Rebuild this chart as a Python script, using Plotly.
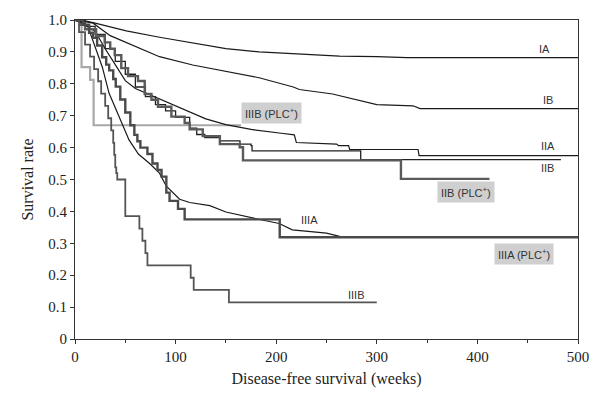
import plotly.graph_objects as go

# ---- data (weeks, survival rate) ----
ia_x = [0, 10, 18, 51, 84, 117, 150, 183, 217, 263, 300, 330, 500]
ia_y = [1.0, 0.997, 0.992, 0.966, 0.946, 0.928, 0.91, 0.9, 0.895, 0.887, 0.885, 0.882, 0.882]

ib_x = [0, 18, 35, 51, 84, 117, 150, 183, 217, 223, 256, 283, 300, 336, 343, 500]
ib_y = [1.0, 0.99, 0.951, 0.93, 0.885, 0.859, 0.839, 0.819, 0.79, 0.782, 0.768, 0.748, 0.735, 0.731, 0.722, 0.722]

iia_x = [0, 10, 20, 30, 40, 50, 60, 75, 90, 105, 115, 130, 150, 175, 205, 218, 220, 260, 262, 272, 273, 341, 342, 500]
iia_y = [1.0, 0.985, 0.965, 0.91, 0.86, 0.81, 0.785, 0.765, 0.745, 0.725, 0.712, 0.69, 0.672, 0.657, 0.645, 0.64, 0.616, 0.611, 0.606, 0.606, 0.594, 0.594, 0.575, 0.575]

iib_x = [0, 10, 20, 30, 40, 50, 60, 70, 80, 90, 100, 114, 121, 129, 144, 164, 175, 176, 284, 483]
iib_y = [1.0, 0.98, 0.955, 0.91, 0.87, 0.83, 0.79, 0.76, 0.735, 0.715, 0.695, 0.661, 0.641, 0.631, 0.621, 0.611, 0.606, 0.59, 0.562, 0.562]

iib_plc_x = [0, 5, 10, 21, 29.5, 35, 39.5, 46, 52.7, 62.6, 69.3, 76, 82.5, 95.8, 109, 114, 127, 144, 163.7, 167, 324, 412]
iib_plc_y = [1.0, 0.985, 0.971, 0.95, 0.93, 0.91, 0.89, 0.849, 0.824, 0.809, 0.768, 0.75, 0.728, 0.697, 0.677, 0.657, 0.636, 0.611, 0.601, 0.56, 0.502, 0.502]

iiia_x = [0, 5, 12.3, 19.6, 27.2, 33.8, 43.7, 53.7, 63, 74.2, 84, 90.8, 104, 114, 134, 150, 180, 203, 216, 250, 263, 300]
iiia_y = [1.0, 0.995, 0.984, 0.92, 0.852, 0.771, 0.7, 0.624, 0.58, 0.55, 0.52, 0.479, 0.438, 0.428, 0.418, 0.398, 0.377, 0.362, 0.342, 0.332, 0.322, 0.32]

iiia_plc_x = [0, 8, 14, 18, 22, 27, 31, 34, 38, 40.5, 45, 50, 55, 59, 62, 65, 72, 77, 82, 86, 90.8, 94, 102.4, 109, 203.5, 500]
iiia_plc_y = [1.0, 0.985, 0.96, 0.944, 0.92, 0.883, 0.86, 0.842, 0.815, 0.791, 0.751, 0.71, 0.67, 0.64, 0.62, 0.6, 0.58, 0.55, 0.53, 0.509, 0.459, 0.433, 0.408, 0.375, 0.319, 0.319]

iiib_x = [0, 4, 10, 15, 19, 23, 26, 30, 33, 36, 38, 39, 40, 41, 42, 50, 64, 67, 70, 72, 115, 118, 153, 300]
iiib_y = [1.0, 0.962, 0.923, 0.885, 0.846, 0.808, 0.769, 0.731, 0.692, 0.654, 0.615, 0.577, 0.538, 0.52, 0.5, 0.385, 0.346, 0.308, 0.269, 0.231, 0.192, 0.154, 0.115, 0.115]

iiib_plc_x = [0, 6.5, 15, 18.5, 165]
iiib_plc_y = [1.0, 0.852, 0.812, 0.67, 0.67]

y_ticks = [0, 0.1, 0.2, 0.3, 0.4, 0.5, 0.6, 0.7, 0.8, 0.9, 1.0]
y_tick_text = ["0", "0.1", "0.2", "0.3", "0.4", "0.5", "0.6", "0.7", "0.8", "0.9", "1.0"]
x_ticks = [0, 100, 200, 300, 400, 500]

# label text and positions (data coords)
labels = [
    ("IA", 467, 0.91, False),
    ("IB", 470, 0.749, False),
    ("IIA", 470, 0.604, False),
    ("IIB", 470, 0.535, False),
    ("IIB (PLC<sup>+</sup>)", 389, 0.46, True),
    ("IIIA", 233, 0.372, False),
    ("IIIA (PLC<sup>+</sup>)", 446, 0.265, True),
    ("IIIB", 280, 0.139, False),
    ("IIIB (PLC<sup>+</sup>)", 195, 0.709, True),
]

fig = go.Figure()

def add(x, y, color, width, shape):
    fig.add_trace(go.Scatter(x=x, y=y, mode="lines", line=dict(color=color, width=width, shape=shape),
                             showlegend=False, hoverinfo="skip"))

add(iiib_plc_x, iiib_plc_y, "#a8a8a8", 2.2, "hv")
add(ia_x, ia_y, "#1a1a1a", 1.2, "linear")
add(ib_x, ib_y, "#1a1a1a", 1.2, "linear")
add(iia_x, iia_y, "#1a1a1a", 1.2, "linear")
add(iib_x, iib_y, "#222222", 1.3, "hv")
add(iib_plc_x, iib_plc_y, "#5a5a5a", 2.4, "hv")
add(iiia_x, iiia_y, "#1a1a1a", 1.2, "linear")
add(iiia_plc_x, iiia_plc_y, "#4a4a4a", 2.4, "hv")
add(iiib_x, iiib_y, "#555555", 1.8, "hv")

for text, lx, ly, boxed in labels:
    fig.add_annotation(x=lx, y=ly, text=text, showarrow=False,
                       font=dict(family="Liberation Sans, Arial", size=11, color="#333"),
                       bgcolor="#cfcfcf" if boxed else "rgba(0,0,0,0)",
                       borderpad=3 if boxed else 0)

fig.update_layout(
    width=601, height=396,
    margin=dict(l=75, r=23, t=16, b=52),
    paper_bgcolor="white", plot_bgcolor="white",
    font=dict(family="Liberation Serif, Times New Roman, serif", size=14, color="#222"),
)
fig.update_xaxes(range=[0, 500], tickvals=x_ticks, ticks="outside", ticklen=4, tickcolor="#333",
                 minor=dict(dtick=50, ticks="outside", ticklen=3, tickcolor="#333"),
                 showgrid=False, zeroline=False, showline=True, linecolor="#333", linewidth=1.2,
                 mirror=True, title=dict(text="Disease-free survival (weeks)", font=dict(size=16), standoff=8),
                 tickfont=dict(size=15))
fig.update_yaxes(range=[0, 1.0], tickvals=y_ticks, ticktext=y_tick_text, ticks="outside", ticklen=4,
                 tickcolor="#333", showgrid=False, zeroline=False, showline=True, linecolor="#333",
                 linewidth=1.2, mirror=True, title=dict(text="Survival rate", font=dict(size=16), standoff=10),
                 tickfont=dict(size=15))

fig.write_html("out.html")
